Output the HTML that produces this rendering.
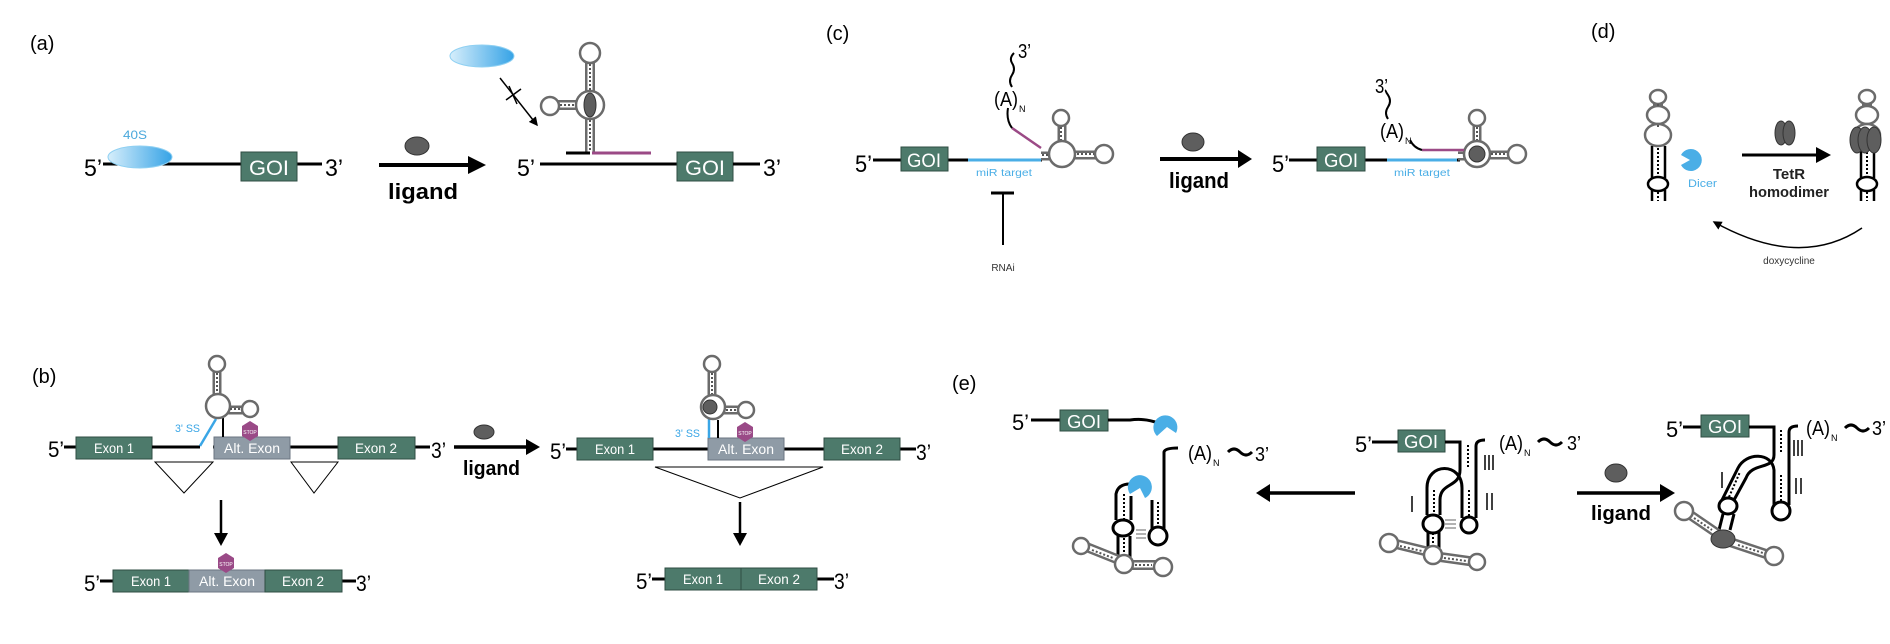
<!DOCTYPE html>
<html><head><meta charset="utf-8"><style>
html,body{margin:0;padding:0;background:#fff;}
svg{display:block;font-family:"Liberation Sans",Arial,sans-serif;}
</style></head><body>
<svg width="1890" height="644" viewBox="0 0 1890 644" xmlns="http://www.w3.org/2000/svg">
<defs>
<linearGradient id="bl" x1="0" x2="1" y1="0" y2="0"><stop offset="0" stop-color="#d6eefb"/><stop offset="1" stop-color="#36a3e6"/></linearGradient>
<marker id="ah" markerWidth="6" markerHeight="6" refX="5" refY="3" orient="auto" markerUnits="strokeWidth"><path d="M0,0 L6,3 L0,6 Z" fill="#000"/></marker>
</defs>

<!-- ============ (a) ============ -->
<text x="30" y="50" font-size="20">(a)</text>
<text x="123" y="139" font-size="12" fill="#4aa8dc" textLength="24" lengthAdjust="spacingAndGlyphs">40S</text>
<line x1="103" y1="164" x2="322" y2="164" stroke="#000" stroke-width="3"/>
<ellipse cx="140" cy="157" rx="32" ry="11" fill="url(#bl)" stroke="#8fd0f2" stroke-width="1"/>
<text x="84" y="176" font-size="24" textLength="18" lengthAdjust="spacingAndGlyphs">5’</text>
<rect x="241" y="152" width="56" height="29" fill="#4d7a6b" stroke="#2f4d43" stroke-width="1"/>
<text x="269" y="175" font-size="21" fill="#fff" text-anchor="middle" textLength="40" lengthAdjust="spacingAndGlyphs">GOI</text>
<text x="325" y="176" font-size="24" textLength="18" lengthAdjust="spacingAndGlyphs">3’</text>
<line x1="379" y1="165" x2="470" y2="165" stroke="#000" stroke-width="4"/>
<path d="M468,156 L486,165 L468,174 Z" fill="#000"/>
<ellipse cx="417" cy="146" rx="12" ry="9" fill="#5e5e5e" stroke="#333" stroke-width="1"/>
<text x="388" y="199" font-size="22" font-weight="bold" textLength="70" lengthAdjust="spacingAndGlyphs">ligand</text>
<text x="517" y="176" font-size="24" textLength="18" lengthAdjust="spacingAndGlyphs">5’</text>
<line x1="540" y1="164" x2="678" y2="164" stroke="#000" stroke-width="3"/>
<rect x="677" y="152" width="56" height="29" fill="#4d7a6b" stroke="#2f4d43" stroke-width="1"/>
<text x="705" y="175" font-size="21" fill="#fff" text-anchor="middle" textLength="40" lengthAdjust="spacingAndGlyphs">GOI</text>
<line x1="733" y1="164" x2="760" y2="164" stroke="#000" stroke-width="3"/>
<text x="763" y="176" font-size="24" textLength="18" lengthAdjust="spacingAndGlyphs">3’</text>
<ellipse cx="482" cy="56" rx="32" ry="11" fill="url(#bl)" stroke="#8fd0f2" stroke-width="1"/>
<line x1="500" y1="78" x2="537" y2="125" stroke="#000" stroke-width="1.5" marker-end="url(#ah)"/>
<line x1="506" y1="100" x2="521" y2="89" stroke="#000" stroke-width="1.5"/>
<line x1="509" y1="86" x2="517" y2="104" stroke="#000" stroke-width="1.5"/>
<g>
<path d="M590,153 V45 M590,105 H550" stroke="#6b6b6b" stroke-width="10" fill="none"/>
<path d="M590,153 V45 M590,105 H550" stroke="#fff" stroke-width="5" fill="none"/>
<circle cx="590" cy="53" r="10" fill="#fff" stroke="#6b6b6b" stroke-width="2.5"/>
<circle cx="590" cy="105" r="14" fill="#fff" stroke="#6b6b6b" stroke-width="2.5"/>
<circle cx="550" cy="106" r="9" fill="#fff" stroke="#6b6b6b" stroke-width="2.5"/>
<path d="M590,64 V91 M590,120 V152 M560,105 H575" stroke="#555" stroke-width="2" stroke-dasharray="2,2"/>
<ellipse cx="590" cy="105" rx="6" ry="12" fill="#5e5e5e" stroke="#333"/>
<line x1="566" y1="153" x2="590" y2="153" stroke="#000" stroke-width="3"/>
<line x1="592" y1="153" x2="651" y2="153" stroke="#9b4a86" stroke-width="3"/>
</g>

<!-- ============ (b) ============ -->
<text x="32" y="383" font-size="20">(b)</text>
<line x1="64" y1="447" x2="430" y2="447" stroke="#000" stroke-width="3"/>
<text x="48" y="457" font-size="22" textLength="16" lengthAdjust="spacingAndGlyphs">5’</text>
<rect x="76" y="437" width="76" height="22" fill="#4d7a6b" stroke="#2f4d43"/>
<text x="114" y="453" font-size="14" fill="#fff" text-anchor="middle" textLength="40" lengthAdjust="spacingAndGlyphs">Exon 1</text>
<rect x="214" y="437" width="76" height="22" fill="#8f9ba6" stroke="#6b7681"/>
<text x="252" y="453" font-size="14" fill="#fff" text-anchor="middle" textLength="56" lengthAdjust="spacingAndGlyphs">Alt. Exon</text>
<rect x="338" y="437" width="77" height="22" fill="#4d7a6b" stroke="#2f4d43"/>
<text x="376" y="453" font-size="14" fill="#fff" text-anchor="middle" textLength="42" lengthAdjust="spacingAndGlyphs">Exon 2</text>
<rect x="199" y="445" width="14" height="4" fill="#fff"/>
<line x1="152" y1="447" x2="200" y2="447" stroke="#000" stroke-width="3"/>
<text x="431" y="458" font-size="22" textLength="15" lengthAdjust="spacingAndGlyphs">3’</text>
<line x1="200" y1="446" x2="216" y2="419" stroke="#3aa6e6" stroke-width="2.5"/>
<text x="175" y="432" font-size="11" fill="#3aa6e6" textLength="25" lengthAdjust="spacingAndGlyphs">3' SS</text>
<line x1="223" y1="437" x2="223" y2="418" stroke="#000" stroke-width="2"/>
<g>
<path d="M217,412 V357 M217,410 H250" stroke="#6b6b6b" stroke-width="9" fill="none"/>
<path d="M217,412 V357 M217,410 H250" stroke="#fff" stroke-width="4" fill="none"/>
<circle cx="217" cy="364" r="8" fill="#fff" stroke="#6b6b6b" stroke-width="2.5"/>
<circle cx="218" cy="406" r="12" fill="#fff" stroke="#6b6b6b" stroke-width="2.5"/>
<circle cx="250" cy="409" r="8" fill="#fff" stroke="#6b6b6b" stroke-width="2.5"/>
<path d="M217,373 V393 M230,409 H242" stroke="#555" stroke-width="2" stroke-dasharray="2,2"/>
</g>
<polygon points="250,421 258,426 258,436 250,441 242,436 242,426" fill="#9a4a87"/>
<text x="250" y="434" font-size="5" fill="#fff" text-anchor="middle">STOP</text>
<polygon points="155,462 213,462 184,493" fill="#fff" stroke="#000" stroke-width="1"/>
<polygon points="291,462 338,462 314,493" fill="#fff" stroke="#000" stroke-width="1"/>
<line x1="221" y1="500" x2="221" y2="535" stroke="#000" stroke-width="2.5"/>
<path d="M214,533 L221,546 L228,533 Z" fill="#000"/>
<line x1="100" y1="581" x2="356" y2="581" stroke="#000" stroke-width="3"/>
<text x="84" y="591" font-size="22" textLength="16" lengthAdjust="spacingAndGlyphs">5’</text>
<rect x="113" y="570" width="76" height="22" fill="#4d7a6b" stroke="#2f4d43"/>
<text x="151" y="586" font-size="14" fill="#fff" text-anchor="middle" textLength="40" lengthAdjust="spacingAndGlyphs">Exon 1</text>
<rect x="189" y="570" width="76" height="22" fill="#8f9ba6" stroke="#6b7681"/>
<text x="227" y="586" font-size="14" fill="#fff" text-anchor="middle" textLength="56" lengthAdjust="spacingAndGlyphs">Alt. Exon</text>
<rect x="265" y="570" width="77" height="22" fill="#4d7a6b" stroke="#2f4d43"/>
<text x="303" y="586" font-size="14" fill="#fff" text-anchor="middle" textLength="42" lengthAdjust="spacingAndGlyphs">Exon 2</text>
<text x="356" y="591" font-size="22" textLength="15" lengthAdjust="spacingAndGlyphs">3’</text>
<polygon points="226,553 234,558 234,568 226,573 218,568 218,558" fill="#9a4a87"/>
<text x="226" y="566" font-size="5" fill="#fff" text-anchor="middle">STOP</text>
<line x1="454" y1="447" x2="528" y2="447" stroke="#000" stroke-width="3.5"/>
<path d="M526,439 L540,447 L526,455 Z" fill="#000"/>
<ellipse cx="484" cy="432" rx="10" ry="7" fill="#5e5e5e" stroke="#333"/>
<text x="463" y="475" font-size="20" font-weight="bold" textLength="57" lengthAdjust="spacingAndGlyphs">ligand</text>
<line x1="566" y1="449" x2="916" y2="449" stroke="#000" stroke-width="3"/>
<text x="550" y="459" font-size="22" textLength="16" lengthAdjust="spacingAndGlyphs">5’</text>
<rect x="577" y="438" width="76" height="22" fill="#4d7a6b" stroke="#2f4d43"/>
<text x="615" y="454" font-size="14" fill="#fff" text-anchor="middle" textLength="40" lengthAdjust="spacingAndGlyphs">Exon 1</text>
<rect x="708" y="438" width="76" height="22" fill="#8f9ba6" stroke="#6b7681"/>
<text x="746" y="454" font-size="14" fill="#fff" text-anchor="middle" textLength="56" lengthAdjust="spacingAndGlyphs">Alt. Exon</text>
<rect x="824" y="438" width="76" height="22" fill="#4d7a6b" stroke="#2f4d43"/>
<text x="862" y="454" font-size="14" fill="#fff" text-anchor="middle" textLength="42" lengthAdjust="spacingAndGlyphs">Exon 2</text>
<text x="916" y="460" font-size="22" textLength="15" lengthAdjust="spacingAndGlyphs">3’</text>
<line x1="709" y1="438" x2="709" y2="419" stroke="#3aa6e6" stroke-width="2.5"/>
<text x="675" y="437" font-size="11" fill="#3aa6e6" textLength="25" lengthAdjust="spacingAndGlyphs">3' SS</text>
<line x1="718" y1="438" x2="718" y2="420" stroke="#000" stroke-width="2"/>
<g>
<path d="M712,414 V357 M712,410 H746" stroke="#6b6b6b" stroke-width="9" fill="none"/>
<path d="M712,414 V357 M712,410 H746" stroke="#fff" stroke-width="4" fill="none"/>
<circle cx="712" cy="364" r="8" fill="#fff" stroke="#6b6b6b" stroke-width="2.5"/>
<circle cx="713" cy="407" r="12" fill="#fff" stroke="#6b6b6b" stroke-width="2.5"/>
<circle cx="746" cy="410" r="8" fill="#fff" stroke="#6b6b6b" stroke-width="2.5"/>
<path d="M712,373 V394 M726,410 H738" stroke="#555" stroke-width="2" stroke-dasharray="2,2"/>
<circle cx="710" cy="407" r="7" fill="#5e5e5e" stroke="#333"/>
</g>
<polygon points="745,422 753,427 753,437 745,442 737,437 737,427" fill="#9a4a87"/>
<text x="745" y="435" font-size="5" fill="#fff" text-anchor="middle">STOP</text>
<polygon points="655,467 823,467 740,498" fill="#fff" stroke="#000" stroke-width="1"/>
<line x1="740" y1="502" x2="740" y2="535" stroke="#000" stroke-width="2.5"/>
<path d="M733,533 L740,546 L747,533 Z" fill="#000"/>
<line x1="652" y1="579" x2="834" y2="579" stroke="#000" stroke-width="3"/>
<text x="636" y="589" font-size="22" textLength="16" lengthAdjust="spacingAndGlyphs">5’</text>
<rect x="665" y="568" width="76" height="22" fill="#4d7a6b" stroke="#2f4d43"/>
<text x="703" y="584" font-size="14" fill="#fff" text-anchor="middle" textLength="40" lengthAdjust="spacingAndGlyphs">Exon 1</text>
<rect x="741" y="568" width="76" height="22" fill="#4d7a6b" stroke="#2f4d43"/>
<text x="779" y="584" font-size="14" fill="#fff" text-anchor="middle" textLength="42" lengthAdjust="spacingAndGlyphs">Exon 2</text>
<text x="834" y="589" font-size="22" textLength="15" lengthAdjust="spacingAndGlyphs">3’</text>

<!-- ============ (c) ============ -->
<text x="826" y="40" font-size="20">(c)</text>
<line x1="873" y1="160" x2="1042" y2="160" stroke="#000" stroke-width="3"/>
<line x1="968" y1="160" x2="1041" y2="160" stroke="#4aaee6" stroke-width="3"/>
<text x="855" y="172" font-size="24" textLength="17" lengthAdjust="spacingAndGlyphs">5’</text>
<rect x="901" y="147" width="47" height="24" fill="#4d7a6b" stroke="#2f4d43"/>
<text x="924" y="167" font-size="19" fill="#fff" text-anchor="middle" textLength="34" lengthAdjust="spacingAndGlyphs">GOI</text>
<text x="976" y="176" font-size="10" fill="#4aaee6" textLength="56" lengthAdjust="spacingAndGlyphs">miR target</text>
<line x1="1003" y1="193" x2="1003" y2="245" stroke="#000" stroke-width="2"/>
<line x1="991" y1="193" x2="1014" y2="193" stroke="#000" stroke-width="3"/>
<text x="1003" y="271" font-size="10" fill="#333" text-anchor="middle">RNAi</text>
<g>
<path d="M1041,156 H1062 V112 M1062,155 H1106" stroke="#6b6b6b" stroke-width="9" fill="none"/>
<path d="M1041,156 H1062 V112 M1062,155 H1106" stroke="#fff" stroke-width="4" fill="none"/>
<circle cx="1061" cy="118" r="8" fill="#fff" stroke="#6b6b6b" stroke-width="2.5"/>
<circle cx="1062" cy="154" r="13" fill="#fff" stroke="#6b6b6b" stroke-width="2.5"/>
<circle cx="1104" cy="154" r="9" fill="#fff" stroke="#6b6b6b" stroke-width="2.5"/>
<path d="M1061,127 V140 M1077,154 H1094 M1042,155 H1048" stroke="#555" stroke-width="2" stroke-dasharray="2,2"/>
</g>
<path d="M1041,148 L1012,128" stroke="#9b4a86" stroke-width="2.5" fill="none"/>
<path d="M1012,128 Q1006,120 1008,108" stroke="#000" stroke-width="2" fill="none"/>
<text x="994" y="106" font-size="20" textLength="24" lengthAdjust="spacingAndGlyphs">(A)</text>
<text x="1019" y="112" font-size="9">N</text>
<path d="M1012,87 q-4,-6 0,-12 q4,-6 0,-12 q-3,-5 2,-10" stroke="#000" stroke-width="2" fill="none"/>
<text x="1018" y="58" font-size="20" textLength="13" lengthAdjust="spacingAndGlyphs">3’</text>
<line x1="1160" y1="159" x2="1240" y2="159" stroke="#000" stroke-width="4"/>
<path d="M1238,150 L1252,159 L1238,168 Z" fill="#000"/>
<ellipse cx="1193" cy="142" rx="11" ry="9" fill="#5e5e5e" stroke="#333"/>
<text x="1169" y="188" font-size="22" font-weight="bold" textLength="60" lengthAdjust="spacingAndGlyphs">ligand</text>
<line x1="1289" y1="160" x2="1460" y2="160" stroke="#000" stroke-width="3"/>
<line x1="1387" y1="160" x2="1457" y2="160" stroke="#4aaee6" stroke-width="3"/>
<text x="1272" y="172" font-size="24" textLength="17" lengthAdjust="spacingAndGlyphs">5’</text>
<rect x="1317" y="147" width="48" height="24" fill="#4d7a6b" stroke="#2f4d43"/>
<text x="1341" y="167" font-size="19" fill="#fff" text-anchor="middle" textLength="34" lengthAdjust="spacingAndGlyphs">GOI</text>
<text x="1394" y="176" font-size="10" fill="#4aaee6" textLength="56" lengthAdjust="spacingAndGlyphs">miR target</text>
<g>
<path d="M1458,156 H1477 V112 M1477,155 H1518" stroke="#6b6b6b" stroke-width="9" fill="none"/>
<path d="M1458,156 H1477 V112 M1477,155 H1518" stroke="#fff" stroke-width="4" fill="none"/>
<circle cx="1477" cy="118" r="8" fill="#fff" stroke="#6b6b6b" stroke-width="2.5"/>
<circle cx="1477" cy="154" r="13" fill="#fff" stroke="#6b6b6b" stroke-width="2.5"/>
<circle cx="1517" cy="154" r="9" fill="#fff" stroke="#6b6b6b" stroke-width="2.5"/>
<path d="M1477,127 V140 M1491,154 H1507" stroke="#555" stroke-width="2" stroke-dasharray="2,2"/>
<circle cx="1477" cy="154" r="8" fill="#5e5e5e" stroke="#333"/>
</g>
<path d="M1464,150 H1422" stroke="#9b4a86" stroke-width="2.5"/>
<path d="M1422,150 Q1414,148 1410,140" stroke="#000" stroke-width="2" fill="none"/>
<text x="1380" y="138" font-size="20" textLength="24" lengthAdjust="spacingAndGlyphs">(A)</text>
<text x="1405" y="144" font-size="9">N</text>
<path d="M1388,119 q-4,-6 0,-12 q4,-6 0,-12 q-3,-4 -2,-5" stroke="#000" stroke-width="2" fill="none"/>
<text x="1375" y="93" font-size="20" textLength="13" lengthAdjust="spacingAndGlyphs">3’</text>

<!-- ============ (d) ============ -->
<text x="1591" y="38" font-size="20">(d)</text>
<g>
<path d="M1658,90 V145" stroke="#6b6b6b" stroke-width="10" fill="none"/>
<path d="M1658,90 V145" stroke="#fff" stroke-width="5" fill="none"/>
<ellipse cx="1658" cy="97" rx="8" ry="7" fill="#fff" stroke="#6b6b6b" stroke-width="2.5"/>
<ellipse cx="1658" cy="115" rx="11" ry="9" fill="#fff" stroke="#6b6b6b" stroke-width="2.5"/>
<ellipse cx="1658" cy="135" rx="13" ry="11" fill="#fff" stroke="#6b6b6b" stroke-width="2.5"/>
<path d="M1658,104 V108 M1658,125 V128" stroke="#555" stroke-width="2" stroke-dasharray="2,2"/>
<path d="M1652,146 V178 M1665,146 V178 M1652,190 V201 M1665,190 V201" stroke="#000" stroke-width="2.5"/>
<ellipse cx="1658" cy="184" rx="10" ry="7" fill="#fff" stroke="#000" stroke-width="2.5"/>
<path d="M1658,148 V176 M1658,192 V201" stroke="#000" stroke-width="2" stroke-dasharray="2,2"/>
</g>
<path d="M1690,160 L1681,165 A11,11 0 1 0 1681,155 Z" fill="#4aaee6"/>
<text x="1688" y="187" font-size="11" fill="#4aaee6" textLength="29" lengthAdjust="spacingAndGlyphs">Dicer</text>
<line x1="1742" y1="155" x2="1818" y2="155" stroke="#000" stroke-width="3"/>
<path d="M1816,147 L1831,155 L1816,163 Z" fill="#000"/>
<ellipse cx="1781" cy="133" rx="6" ry="12" fill="#5e5e5e" stroke="#333"/>
<ellipse cx="1789" cy="133" rx="6" ry="12" fill="#5e5e5e" stroke="#333"/>
<text x="1789" y="179" font-size="15" font-weight="bold" fill="#222" text-anchor="middle">TetR</text>
<text x="1789" y="197" font-size="15" font-weight="bold" fill="#222" text-anchor="middle" textLength="80" lengthAdjust="spacingAndGlyphs">homodimer</text>
<g>
<path d="M1867,90 V145" stroke="#6b6b6b" stroke-width="10" fill="none"/>
<path d="M1867,90 V145" stroke="#fff" stroke-width="5" fill="none"/>
<ellipse cx="1867" cy="97" rx="8" ry="7" fill="#fff" stroke="#6b6b6b" stroke-width="2.5"/>
<ellipse cx="1867" cy="115" rx="11" ry="9" fill="#fff" stroke="#6b6b6b" stroke-width="2.5"/>
<ellipse cx="1867" cy="135" rx="13" ry="11" fill="#fff" stroke="#6b6b6b" stroke-width="2.5"/>
<path d="M1861,146 V178 M1874,146 V178 M1861,190 V201 M1874,190 V201" stroke="#000" stroke-width="2.5"/>
<ellipse cx="1867" cy="184" rx="10" ry="7" fill="#fff" stroke="#000" stroke-width="2.5"/>
<path d="M1867,148 V176 M1867,192 V201" stroke="#000" stroke-width="2" stroke-dasharray="2,2"/>
<ellipse cx="1857" cy="140" rx="7" ry="13" fill="#5e5e5e" stroke="#333"/>
<ellipse cx="1865" cy="140" rx="7" ry="13" fill="#5e5e5e" stroke="#333"/>
<ellipse cx="1874" cy="140" rx="7" ry="13" fill="#5e5e5e" stroke="#333"/>
</g>
<path d="M1862,228 Q1800,270 1714,222" stroke="#000" stroke-width="1.5" fill="none" marker-end="url(#ah)"/>
<text x="1789" y="264" font-size="10" fill="#333" text-anchor="middle">doxycycline</text>

<!-- ============ (e) ============ -->
<text x="952" y="390" font-size="20">(e)</text>
<line x1="1031" y1="420" x2="1060" y2="420" stroke="#000" stroke-width="3"/>
<text x="1012" y="430" font-size="22" textLength="17" lengthAdjust="spacingAndGlyphs">5’</text>
<rect x="1060" y="410" width="48" height="21" fill="#4d7a6b" stroke="#2f4d43"/>
<text x="1084" y="428" font-size="18" fill="#fff" text-anchor="middle" textLength="34" lengthAdjust="spacingAndGlyphs">GOI</text>
<path d="M1108,420 H1130 Q1145,418 1158,423" stroke="#000" stroke-width="3" fill="none"/>
<path d="M1167,427 L1157,436 A12,12 0 1 1 1176,433 Z" fill="#4aaee6"/>
<path d="M1164,530 V452 Q1165,448 1178,448" stroke="#000" stroke-width="3" fill="none"/>
<text x="1188" y="460" font-size="20" textLength="24" lengthAdjust="spacingAndGlyphs">(A)</text>
<text x="1213" y="466" font-size="9">N</text>
<path d="M1228,452 q6,-6 12,0 q6,6 12,0" stroke="#000" stroke-width="3" fill="none"/>
<text x="1255" y="461" font-size="20" textLength="14" lengthAdjust="spacingAndGlyphs">3’</text>
<path d="M1152,530 V500" stroke="#000" stroke-width="3" fill="none"/>
<circle cx="1158" cy="536" r="9" fill="#fff" stroke="#000" stroke-width="3"/>
<path d="M1158,502 V526" stroke="#000" stroke-width="2" stroke-dasharray="2,2"/>
<path d="M1116,520 V494 Q1118,484 1130,484 M1131,520 V496" stroke="#000" stroke-width="3" fill="none"/>
<path d="M1124,494 V520" stroke="#000" stroke-width="2" stroke-dasharray="2,2"/>
<path d="M1140,488 L1130,494 A12,12 0 1 1 1145,498 Z" fill="#4aaee6"/>
<ellipse cx="1123" cy="528" rx="10" ry="8" fill="#fff" stroke="#000" stroke-width="3"/>
<path d="M1118,536 V560 M1130,536 V560" stroke="#000" stroke-width="3"/>
<path d="M1124,538 V558" stroke="#000" stroke-width="2" stroke-dasharray="2,2"/>
<path d="M1136,530 H1146 M1136,534 H1146 M1136,538 H1146" stroke="#999" stroke-width="1.5"/>
<g>
<path d="M1124,562 L1084,546 M1124,565 H1162" stroke="#6b6b6b" stroke-width="10" fill="none"/>
<path d="M1124,562 L1084,546 M1124,565 H1162" stroke="#fff" stroke-width="5" fill="none"/>
<circle cx="1124" cy="564" r="9" fill="#fff" stroke="#6b6b6b" stroke-width="2.5"/>
<circle cx="1081" cy="546" r="8" fill="#fff" stroke="#6b6b6b" stroke-width="2.5"/>
<circle cx="1163" cy="567" r="9" fill="#fff" stroke="#6b6b6b" stroke-width="2.5"/>
<path d="M1092,550 L1113,558 M1135,565 H1152" stroke="#555" stroke-width="2" stroke-dasharray="2,2"/>
</g>
<line x1="1268" y1="493" x2="1355" y2="493" stroke="#000" stroke-width="3.5"/>
<path d="M1270,484 L1256,493 L1270,502 Z" fill="#000"/>
<line x1="1372" y1="442" x2="1398" y2="442" stroke="#000" stroke-width="3"/>
<text x="1355" y="452" font-size="22" textLength="17" lengthAdjust="spacingAndGlyphs">5’</text>
<rect x="1398" y="430" width="47" height="22" fill="#4d7a6b" stroke="#2f4d43"/>
<text x="1421" y="448" font-size="18" fill="#fff" text-anchor="middle" textLength="34" lengthAdjust="spacingAndGlyphs">GOI</text>
<g stroke="#000" stroke-width="3" fill="none">
<path d="M1445,442 H1460 V470 C1460,488 1440,482 1440,500 V515"/>
<path d="M1427,515 V488 C1427,462 1462,462 1462,488 V518"/>
<path d="M1476,518 V446 Q1476,440 1485,440"/>
<circle cx="1469" cy="525" r="8" fill="#fff"/>
<ellipse cx="1433" cy="524" rx="10" ry="9" fill="#fff"/>
<path d="M1428,532 V550 M1439,532 V550"/>
</g>
<path d="M1468,445 V468 M1434,490 V515 M1469,490 V516 M1433,533 V550" stroke="#000" stroke-width="2" stroke-dasharray="2,2"/>
<path d="M1445,520 H1456 M1445,524 H1456 M1445,528 H1456" stroke="#999" stroke-width="1.5"/>
<g>
<path d="M1433,553 L1392,543 M1433,556 L1476,562" stroke="#6b6b6b" stroke-width="10" fill="none"/>
<path d="M1433,553 L1392,543 M1433,556 L1476,562" stroke="#fff" stroke-width="5" fill="none"/>
<circle cx="1433" cy="555" r="9" fill="#fff" stroke="#6b6b6b" stroke-width="2.5"/>
<circle cx="1389" cy="543" r="9" fill="#fff" stroke="#6b6b6b" stroke-width="2.5"/>
<circle cx="1477" cy="562" r="8" fill="#fff" stroke="#6b6b6b" stroke-width="2.5"/>
<path d="M1400,546 L1422,551 M1444,558 L1467,561" stroke="#555" stroke-width="2" stroke-dasharray="2,2"/>
</g>
<text x="1499" y="450" font-size="20" textLength="24" lengthAdjust="spacingAndGlyphs">(A)</text>
<text x="1524" y="456" font-size="9">N</text>
<path d="M1538,442 q6,-6 12,0 q6,6 12,0" stroke="#000" stroke-width="3" fill="none"/>
<text x="1567" y="450" font-size="20" textLength="14" lengthAdjust="spacingAndGlyphs">3’</text>
<path d="M1485,455 V470 M1489,455 V470 M1493,455 V470" stroke="#000" stroke-width="1.5"/>
<path d="M1487,493 V510 M1492,493 V510" stroke="#000" stroke-width="1.5"/>
<path d="M1412,496 V512" stroke="#000" stroke-width="1.5"/>
<line x1="1577" y1="493" x2="1662" y2="493" stroke="#000" stroke-width="3.5"/>
<path d="M1660,484 L1675,493 L1660,502 Z" fill="#000"/>
<ellipse cx="1616" cy="473" rx="11" ry="9" fill="#5e5e5e" stroke="#333"/>
<text x="1591" y="520" font-size="20" font-weight="bold" textLength="60" lengthAdjust="spacingAndGlyphs">ligand</text>
<line x1="1683" y1="427" x2="1701" y2="427" stroke="#000" stroke-width="3"/>
<text x="1666" y="437" font-size="22" textLength="17" lengthAdjust="spacingAndGlyphs">5’</text>
<rect x="1701" y="415" width="48" height="22" fill="#4d7a6b" stroke="#2f4d43"/>
<text x="1725" y="433" font-size="18" fill="#fff" text-anchor="middle" textLength="34" lengthAdjust="spacingAndGlyphs">GOI</text>
<g stroke="#000" stroke-width="3" fill="none">
<path d="M1749,427 H1774 V455 C1774,470 1752,462 1746,478 L1734,500"/>
<path d="M1722,500 L1738,468 C1746,452 1772,452 1774,470 V505"/>
<path d="M1789,505 V432 Q1789,426 1798,426"/>
<circle cx="1781" cy="511" r="9" fill="#fff"/>
<ellipse cx="1728" cy="506" rx="9" ry="8" fill="#fff"/>
<path d="M1723,514 L1719,530 M1734,514 L1730,530"/>
</g>
<path d="M1781,430 V453 M1729,497 L1740,472 M1781,475 V501" stroke="#000" stroke-width="2" stroke-dasharray="2,2"/>
<g>
<path d="M1724,538 L1686,512 M1724,540 L1772,556" stroke="#6b6b6b" stroke-width="10" fill="none"/>
<path d="M1724,538 L1686,512 M1724,540 L1772,556" stroke="#fff" stroke-width="5" fill="none"/>
<circle cx="1684" cy="511" r="9" fill="#fff" stroke="#6b6b6b" stroke-width="2.5"/>
<circle cx="1774" cy="556" r="9" fill="#fff" stroke="#6b6b6b" stroke-width="2.5"/>
<path d="M1694,518 L1712,530 M1738,545 L1763,553" stroke="#555" stroke-width="2" stroke-dasharray="2,2"/>
<ellipse cx="1723" cy="539" rx="12" ry="9" fill="#5e5e5e" stroke="#333"/>
</g>
<text x="1806" y="435" font-size="20" textLength="24" lengthAdjust="spacingAndGlyphs">(A)</text>
<text x="1831" y="441" font-size="9">N</text>
<path d="M1845,428 q6,-6 12,0 q6,6 12,0" stroke="#000" stroke-width="3" fill="none"/>
<text x="1872" y="435" font-size="20" textLength="14" lengthAdjust="spacingAndGlyphs">3’</text>
<path d="M1794,440 V456 M1798,440 V456 M1802,440 V456" stroke="#000" stroke-width="1.5"/>
<path d="M1796,478 V494 M1801,478 V494" stroke="#000" stroke-width="1.5"/>
<path d="M1722,472 V488" stroke="#000" stroke-width="1.5"/>
</svg>
</body></html>
